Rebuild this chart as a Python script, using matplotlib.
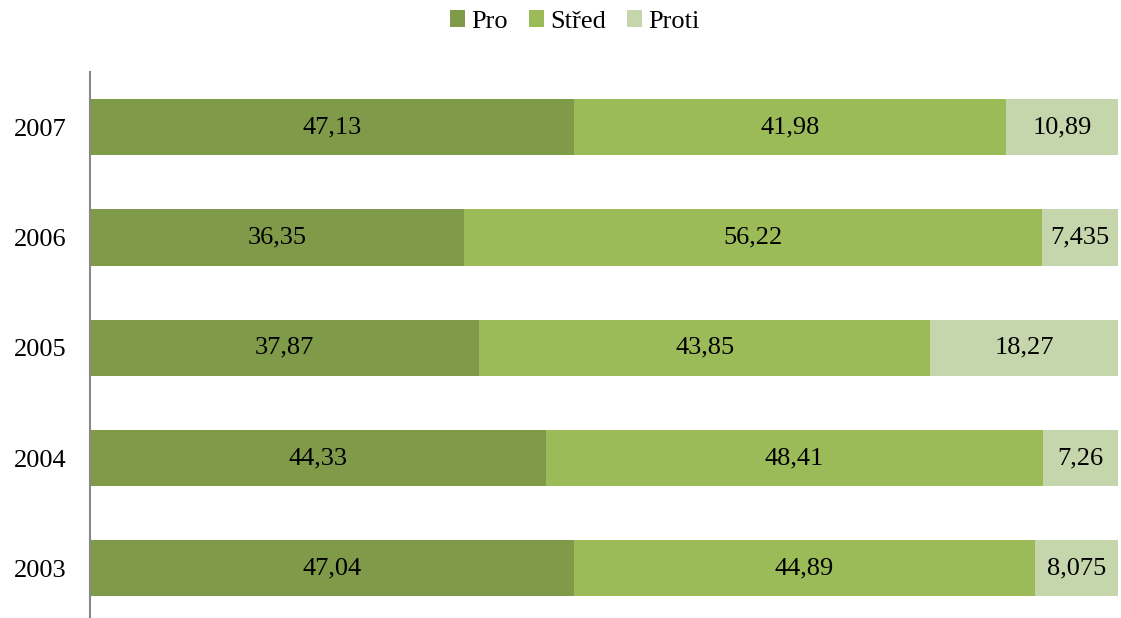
import matplotlib.pyplot as plt
import numpy as np

years = ['2003', '2004', '2005', '2006', '2007']
pro = [47.04, 44.33, 37.87, 36.35, 47.13]
stred = [44.89, 48.41, 43.85, 56.22, 41.98]
proti = [8.075, 7.26, 18.27, 7.435, 10.89]

labels_pro = ['47,04', '44,33', '37,87', '36,35', '47,13']
labels_stred = ['44,89', '48,41', '43,85', '56,22', '41,98']
labels_proti = ['8,075', '7,26', '18,27', '7,435', '10,89']

plt.rcParams['font.family'] = ['Liberation Serif', 'DejaVu Serif']

fig = plt.figure(figsize=(11.21, 6.18), dpi=100)
ax = fig.add_axes([90 / 1121, 0, 1028 / 1121, (618 - 72) / 618])

y = np.arange(len(years))
h = 0.51
series = [
    ('Pro', pro, labels_pro, '#7f9a48'),
    ('Střed', stred, labels_stred, '#9bbb59'),
    ('Proti', proti, labels_proti, '#c6d6ac'),
]
left = np.zeros(len(years))
for name, vals, labs, col in series:
    bars = ax.barh(y, vals, h, left=left, color=col, label=name)
    for b, lab in zip(bars, labs):
        ax.text(b.get_x() + b.get_width() / 2, b.get_y() + b.get_height() / 2,
                lab, ha='center', va='center', fontsize=19)
    left += np.array(vals)

ax.set_xlim(0, 100)
ax.set_ylim(-0.45, 4.5)
ax.set_yticks(y)
ax.set_yticklabels(years, fontsize=19)
ax.tick_params(axis='y', length=0, pad=17)
ax.set_xticks([])
for s in ['top', 'right', 'bottom']:
    ax.spines[s].set_visible(False)
ax.spines['left'].set_color('#888888')
ax.spines['left'].set_linewidth(1.5)

fig.legend(loc='upper center', bbox_to_anchor=(0.513, 1.022), ncol=3, frameon=False,
           fontsize=19, handlelength=0.55, handleheight=0.6, handletextpad=0.25,
           columnspacing=0.8)

fig.savefig('out.png', dpi=100)
